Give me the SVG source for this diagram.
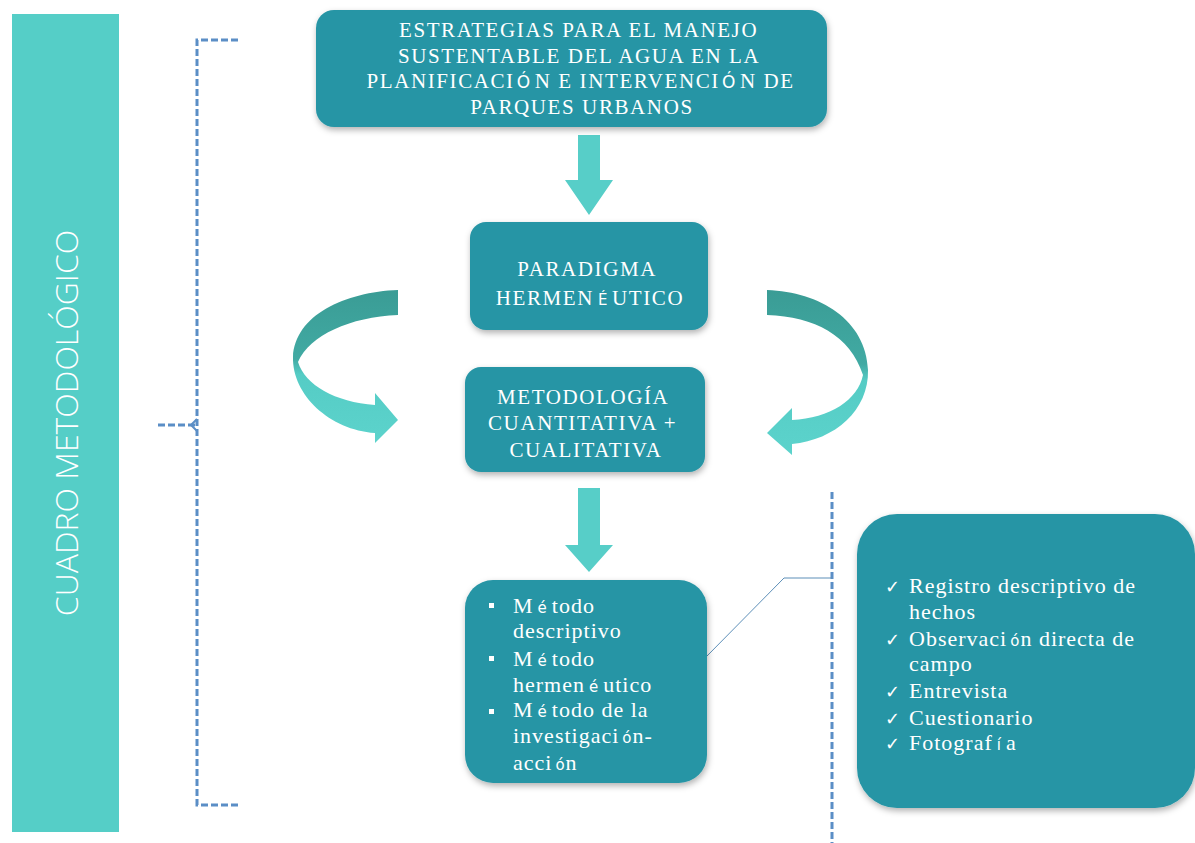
<svg xmlns="http://www.w3.org/2000/svg" width="1195" height="843" viewBox="0 0 1195 843">
<defs>
<style>
.box{fill:#2795a5;}
.dash{fill:none;stroke:#5b8ec6;stroke-width:3;stroke-dasharray:7 3;}
.arr{fill:#57cec8;}
.sf{font-family:Liberation Serif, DejaVu Serif, Times New Roman, serif;fill:#ffffff;}
.cap{font-size:21px;letter-spacing:1.6px;}
.low{font-size:22px;letter-spacing:1px;}
.ac{font-family:DejaVu Sans, sans-serif;}
</style>
<filter id="sh" x="-10%" y="-10%" width="120%" height="130%">
<feDropShadow dx="1" dy="3" stdDeviation="3" flood-color="#000" flood-opacity="0.3"/>
</filter>
<linearGradient id="cg" x1="0" y1="0" x2="0" y2="1">
<stop offset="0" stop-color="#3a9c95"/>
<stop offset="0.45" stop-color="#41aaa3"/>
<stop offset="0.55" stop-color="#55ccc5"/>
<stop offset="1" stop-color="#5cd3cc"/>
</linearGradient>
</defs>
<rect width="1195" height="843" fill="#ffffff"/>

<g id="sidebar">
<rect x="12" y="14" width="107" height="818" fill="#55cec7"/>
<text x="0" y="0" transform="translate(78 423) rotate(-90)" text-anchor="middle" font-family="'Open Sans','Liberation Sans',sans-serif" font-weight="300" font-size="32" fill="#ffffff">CUADRO METODOLÓGICO</text>
</g>

<g id="connectors">
<path class="dash" d="M 238 40 L 197 40 L 197 805 L 238 805"/>
<path class="dash" d="M 158 425 L 197 425"/>
<path d="M 197 419 L 191 425 L 197 431" fill="none" stroke="#5b8ec6" stroke-width="2"/>
<path class="dash" d="M 832 492 L 832 843"/>
<path d="M 706 657 L 784 578 L 832 578" fill="none" stroke="#5d8fb8" stroke-width="1"/>
<path class="arr" d="M 578 135 L 600 135 L 600 180 L 613 180 L 589 215 L 565 180 L 578 180 Z"/>
<path class="arr" d="M 578 488 L 600 488 L 600 545 L 613 545 L 589 572 L 565 545 L 578 545 Z"/>
<path fill="url(#cg)" d="M 398 290 C 345 292 295 315 293 357 C 292 395 330 430 375 433 L 375 443 L 398 420 L 375 393 L 375 405 C 335 402 305 385 298 362 C 310 335 350 317 398 315 Z"/>
<path fill="url(#cg)" d="M 767 290 C 820 292 866 320 868 370 C 869 410 835 440 792 444 L 792 455 L 767 433 L 792 408 L 792 420 C 830 418 858 400 863 375 C 850 335 815 317 767 315 Z"/>
</g>

<g id="node-top">
<rect class="box" x="316" y="10" width="511" height="117" rx="18" filter="url(#sh)"/>
<text class="sf cap" text-anchor="middle">
<tspan x="582" y="37">ESTRATEGIAS PARA EL MANEJO</tspan>
<tspan x="582" y="63">SUSTENTABLE DEL AGUA EN LA</tspan>
<tspan x="584" y="88">PLANIFICACI<tspan class="ac" font-size="17" dx="2">Ó</tspan><tspan dx="3">N E INTERVENCI</tspan><tspan class="ac" font-size="17" dx="2">Ó</tspan><tspan dx="3">N DE</tspan></tspan>
<tspan x="582" y="114">PARQUES URBANOS</tspan>
</text>
</g>

<g id="node-paradigma">
<rect class="box" x="470" y="222" width="238" height="108" rx="16" filter="url(#sh)"/>
<text class="sf cap" text-anchor="middle">
<tspan x="590" y="276">PARADIGMA</tspan>
<tspan x="590" y="305">HERMEN<tspan class="ac" font-size="15" dx="4">É</tspan><tspan dx="3">UTICO</tspan></tspan>
</text>
</g>

<g id="node-metodologia">
<rect class="box" x="465" y="367" width="240" height="105" rx="16" filter="url(#sh)"/>
<text class="sf cap" text-anchor="middle">
<tspan x="586" y="404">METODOLOGÍA</tspan>
<tspan x="586" y="430">CUANTITATIVA +</tspan>
<tspan x="586" y="457">CUALITATIVA</tspan>
</text>
</g>

<g id="node-metodos">
<rect class="box" x="465" y="580" width="242" height="203" rx="28" filter="url(#sh)"/>
<rect x="489" y="603" width="5" height="5" fill="#ffffff"/>
<rect x="489" y="656" width="5" height="5" fill="#ffffff"/>
<rect x="489" y="709" width="5" height="5" fill="#ffffff"/>
<text class="sf low">
<tspan x="513" y="613">M<tspan class="ac" font-size="15" dx="4">é</tspan><tspan dx="4">todo</tspan></tspan>
<tspan x="513" y="638">descriptivo</tspan>
<tspan x="513" y="666">M<tspan class="ac" font-size="15" dx="4">é</tspan><tspan dx="4">todo</tspan></tspan>
<tspan x="513" y="692">hermen<tspan class="ac" font-size="15" dx="4">é</tspan><tspan dx="4">utico</tspan></tspan>
<tspan x="513" y="717">M<tspan class="ac" font-size="15" dx="4">é</tspan><tspan dx="4">todo de la</tspan></tspan>
<tspan x="513" y="743">investigaci<tspan class="ac" font-size="15" dx="3">ó</tspan>n-</tspan>
<tspan x="513" y="770">acci<tspan class="ac" font-size="15" dx="3">ó</tspan>n</tspan>
</text>
</g>

<g id="node-tecnicas">
<rect class="box" x="857" y="514" width="338" height="294" rx="40" filter="url(#sh)"/>
<g class="ac" font-size="18" fill="#ffffff">
<text x="885" y="593">✓</text>
<text x="885" y="646">✓</text>
<text x="885" y="698">✓</text>
<text x="885" y="725">✓</text>
<text x="885" y="750">✓</text>
</g>
<text class="sf low">
<tspan x="909" y="593">Registro descriptivo de</tspan>
<tspan x="909" y="619">hechos</tspan>
<tspan x="909" y="646">Observaci<tspan class="ac" font-size="15" dx="3">ó</tspan>n directa de</tspan>
<tspan x="909" y="671">campo</tspan>
<tspan x="909" y="698">Entrevista</tspan>
<tspan x="909" y="725">Cuestionario</tspan>
<tspan x="909" y="750">Fotograf<tspan class="ac" font-size="15" dx="4">í</tspan><tspan dx="4">a</tspan></tspan>
</text>
</g>
</svg>
